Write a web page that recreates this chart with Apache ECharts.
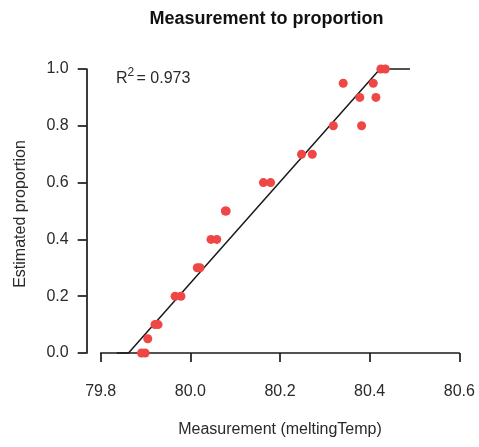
<!DOCTYPE html>
<html>
<head>
<meta charset="utf-8">
<script src="https://cdn.jsdelivr.net/npm/echarts@6/dist/echarts.min.js"></script>
<style>html,body{margin:0;padding:0;background:#fff}#c{width:479px;height:447px}</style>
</head>
<body>
<div id="c"></div>
<script>
const measurement = [79.891, 79.899, 79.905, 79.921, 79.928, 79.966, 79.979, 80.0155, 80.0215, 80.046, 80.059, 80.078, 80.080, 80.163, 80.179, 80.248, 80.272, 80.319, 80.382, 80.378, 80.414, 80.341, 80.408, 80.425, 80.435];
const proportion  = [0.0, 0.0, 0.05, 0.1, 0.1, 0.2, 0.2, 0.3, 0.3, 0.4, 0.4, 0.5, 0.5, 0.6, 0.6, 0.7, 0.7, 0.8, 0.8, 0.9, 0.9, 0.95, 0.95, 1.0, 1.0];
const fitX = [79.836, 79.862, 80.423, 80.49];
const fitY = [0, 0, 1, 1];
const xTicks = [79.8, 80.0, 80.2, 80.4, 80.6];
const yTicks = [0.0, 0.2, 0.4, 0.6, 0.8, 1.0];
const rSquared = 0.973;

const chart = echarts.init(document.getElementById('c'), null, {renderer: 'canvas'});
const font = 'Liberation Sans, Arial, sans-serif';
const axisColor = '#1a1a1a';
const labelColor = '#2a2a2a';
chart.setOption({
  animation: false,
  backgroundColor: '#fff',
  textStyle: {fontFamily: font},
  grid: {left: 100.7, right: 19.7, top: 69, bottom: 94},
  xAxis: {
    type: 'value', min: xTicks[0], max: xTicks[xTicks.length - 1], interval: 0.2,
    offset: 10,
    splitLine: {show: false},
    axisLine: {show: true, lineStyle: {color: axisColor, width: 1.7}},
    axisTick: {show: true, length: 9, lineStyle: {color: axisColor, width: 1.7}},
    axisLabel: {fontSize: 16, color: labelColor, margin: 21, fontFamily: font, formatter: v => v.toFixed(1)}
  },
  yAxis: {
    type: 'value', min: yTicks[0], max: yTicks[yTicks.length - 1], interval: 0.2,
    offset: 14,
    splitLine: {show: false},
    axisLine: {show: true, lineStyle: {color: axisColor, width: 1.7}},
    axisTick: {show: true, length: 9, lineStyle: {color: axisColor, width: 1.7}},
    axisLabel: {fontSize: 16, color: labelColor, margin: 18, fontFamily: font, formatter: v => v.toFixed(1)}
  },
  series: [
    {
      type: 'line',
      data: fitX.map((x, i) => [x, fitY[i]]),
      showSymbol: false,
      clip: false,
      lineStyle: {color: '#1a1a1a', width: 1.5},
      z: 2
    },
    {
      type: 'scatter',
      data: measurement.map((x, i) => [x, proportion[i]]),
      symbolSize: 9,
      clip: false,
      itemStyle: {color: '#ef4646', opacity: 1},
      z: 3
    }
  ],
  graphic: [
    {type: 'text', x: 266.5, y: 19, style: {text: 'Measurement to proportion', font: 'bold 18px ' + font, fill: '#111', align: 'center', verticalAlign: 'middle'}},
    {type: 'text', x: 116, y: 78.5, style: {text: 'R', font: '16px ' + font, fill: labelColor, align: 'left', verticalAlign: 'middle'}},
    {type: 'text', x: 127.5, y: 72.3, style: {text: '2', font: '12px ' + font, fill: labelColor, align: 'left', verticalAlign: 'middle'}},
    {type: 'text', x: 136.5, y: 78.5, style: {text: '= ' + rSquared.toFixed(3), font: '16px ' + font, fill: labelColor, align: 'left', verticalAlign: 'middle'}},
    {type: 'text', x: 280, y: 430, style: {text: 'Measurement (meltingTemp)', font: '16px ' + font, fill: labelColor, align: 'center', verticalAlign: 'middle'}},
    {type: 'text', x: 21, y: 214, rotation: Math.PI / 2, style: {text: 'Estimated proportion', font: '16px ' + font, fill: labelColor, align: 'center', verticalAlign: 'middle'}}
  ]
});
</script>
</body>
</html>
